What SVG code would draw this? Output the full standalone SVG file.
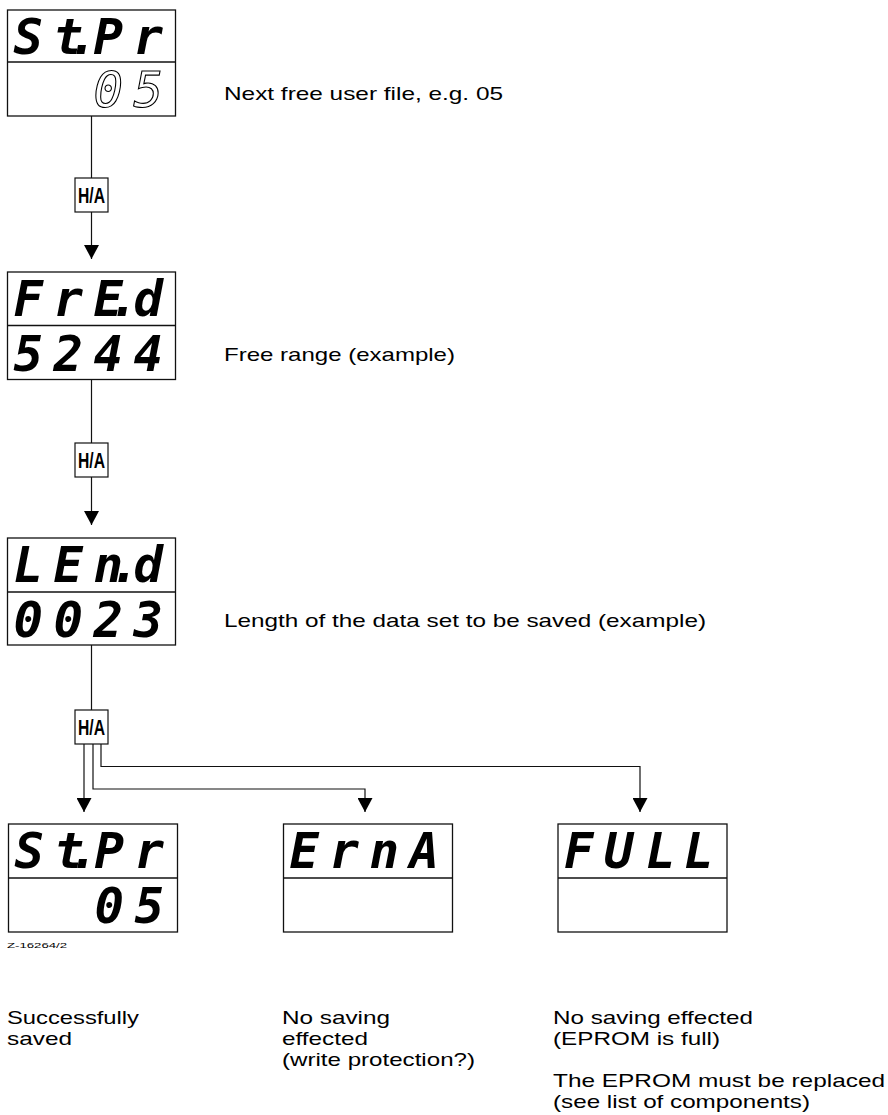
<svg xmlns="http://www.w3.org/2000/svg" width="888" height="1115" viewBox="0 0 888 1115">
<style>
.disp{fill:#fff;stroke:#111;stroke-width:1.3}
.dv{stroke:#111;stroke-width:1.3}
.seg{font-family:"DejaVu Sans Mono",monospace;font-weight:bold;font-style:oblique;font-size:49px;fill:#000}
.hollow{fill:#fff;stroke:#000;stroke-width:1.1;font-weight:normal}
.lbl{font-family:"Liberation Sans",Arial,sans-serif;font-size:19px;fill:#000}
.key rect{fill:#fff;stroke:#111;stroke-width:1.2}
.key text{font-family:"Liberation Sans",Arial,sans-serif;font-weight:bold;font-size:22px;fill:#000;text-anchor:middle}
.conn line,.conn polyline{stroke:#111;stroke-width:1.2;fill:none}
.tiny{font-family:"Liberation Sans",Arial,sans-serif;font-size:8px;fill:#000}
</style>
<defs>
<marker id="ah" markerUnits="userSpaceOnUse" markerWidth="15" markerHeight="15" refX="14" refY="7.5" orient="auto">
<path d="M0,0 L14,7.5 L0,15 z" fill="#000"/>
</marker>
</defs>

<g id="connectors" class="conn">
<line x1="91.5" y1="116" x2="91.5" y2="178"/>
<line x1="91.5" y1="212" x2="91.5" y2="259" marker-end="url(#ah)"/>
<line x1="91.5" y1="379.5" x2="91.5" y2="443"/>
<line x1="91.5" y1="477" x2="91.5" y2="525" marker-end="url(#ah)"/>
<line x1="91.5" y1="645" x2="91.5" y2="710"/>
<line x1="84" y1="744" x2="84" y2="812" marker-end="url(#ah)"/>
<polyline points="93,744 93,789 365,789 365,812" marker-end="url(#ah)"/>
<polyline points="101,744 101,766.5 640,766.5 640,812" marker-end="url(#ah)"/>
</g>

<g id="key1" class="key"><rect x="75" y="178" width="33" height="34"/><text x="91.5" y="203" textLength="27" lengthAdjust="spacingAndGlyphs">H/A</text></g>
<g id="key2" class="key"><rect x="75" y="443" width="33" height="34"/><text x="91.5" y="468" textLength="27" lengthAdjust="spacingAndGlyphs">H/A</text></g>
<g id="key3" class="key"><rect x="75" y="710" width="33" height="34"/><text x="91.5" y="735" textLength="27" lengthAdjust="spacingAndGlyphs">H/A</text></g>

<g id="display1">
<rect class="disp" x="7.5" y="10" width="168" height="106"/>
<line class="dv" x1="7.5" y1="62" x2="175.5" y2="62"/>
<text class="seg" x="13.5 53.5 68 93.5 133.5" y="54">St.Pr</text>
<text class="seg hollow" x="93.5 133.5" y="107">05</text>
</g>
<text class="lbl" x="224" y="100" textLength="279" lengthAdjust="spacingAndGlyphs">Next free user file, e.g. 05</text>

<g id="display2">
<rect class="disp" x="7.5" y="272" width="168" height="107.5"/>
<line class="dv" x1="7.5" y1="325.5" x2="175.5" y2="325.5"/>
<text class="seg" x="13.5 53.5 93.5 109 133.5" y="316">FrE.d</text>
<text class="seg" x="13.5 53.5 93.5 133.5" y="371">5244</text>
</g>
<text class="lbl" x="224" y="361" textLength="231" lengthAdjust="spacingAndGlyphs">Free range (example)</text>

<g id="display3">
<rect class="disp" x="7.5" y="538" width="168" height="107"/>
<line class="dv" x1="7.5" y1="592" x2="175.5" y2="592"/>
<text class="seg" x="13.5 53.5 93.5 110 133.5" y="582">LEn.d</text>
<text class="seg" x="13.5 53.5 93.5 133.5" y="637">0023</text>
</g>
<text class="lbl" x="224" y="627" textLength="482" lengthAdjust="spacingAndGlyphs">Length of the data set to be saved (example)</text>

<g id="display4">
<rect class="disp" x="8.5" y="824" width="169" height="108"/>
<line class="dv" x1="8.5" y1="878" x2="177.5" y2="878"/>
<text class="seg" x="14.5 54.5 69 94.5 134.5" y="868">St.Pr</text>
<text class="seg" x="94.5 134.5" y="923">05</text>
</g>

<g id="display5">
<rect class="disp" x="283.5" y="824" width="169" height="108"/>
<line class="dv" x1="283.5" y1="878" x2="452.5" y2="878"/>
<text class="seg" x="289.5 329.5 369.5 409.5" y="868">ErnA</text>
</g>

<g id="display6">
<rect class="disp" x="558" y="824" width="169" height="108"/>
<line class="dv" x1="558" y1="878" x2="727" y2="878"/>
<text class="seg" x="564 604 646 684" y="868">FULL</text>
</g>

<text class="tiny" x="7" y="948" textLength="60" lengthAdjust="spacingAndGlyphs">Z-16264/2</text>

<g id="captions" class="lbl">
<text x="7" y="1024" textLength="132" lengthAdjust="spacingAndGlyphs">Successfully</text>
<text x="7" y="1045" textLength="65" lengthAdjust="spacingAndGlyphs">saved</text>
<text x="282" y="1024" textLength="108" lengthAdjust="spacingAndGlyphs">No saving</text>
<text x="282" y="1045" textLength="86" lengthAdjust="spacingAndGlyphs">effected</text>
<text x="282" y="1066" textLength="193" lengthAdjust="spacingAndGlyphs">(write protection?)</text>
<text x="553" y="1024" textLength="200" lengthAdjust="spacingAndGlyphs">No saving effected</text>
<text x="553" y="1045" textLength="167" lengthAdjust="spacingAndGlyphs">(EPROM is full)</text>
<text x="553" y="1087" textLength="332" lengthAdjust="spacingAndGlyphs">The EPROM must be replaced</text>
<text x="553" y="1108" textLength="257" lengthAdjust="spacingAndGlyphs">(see list of components)</text>
</g>
</svg>
